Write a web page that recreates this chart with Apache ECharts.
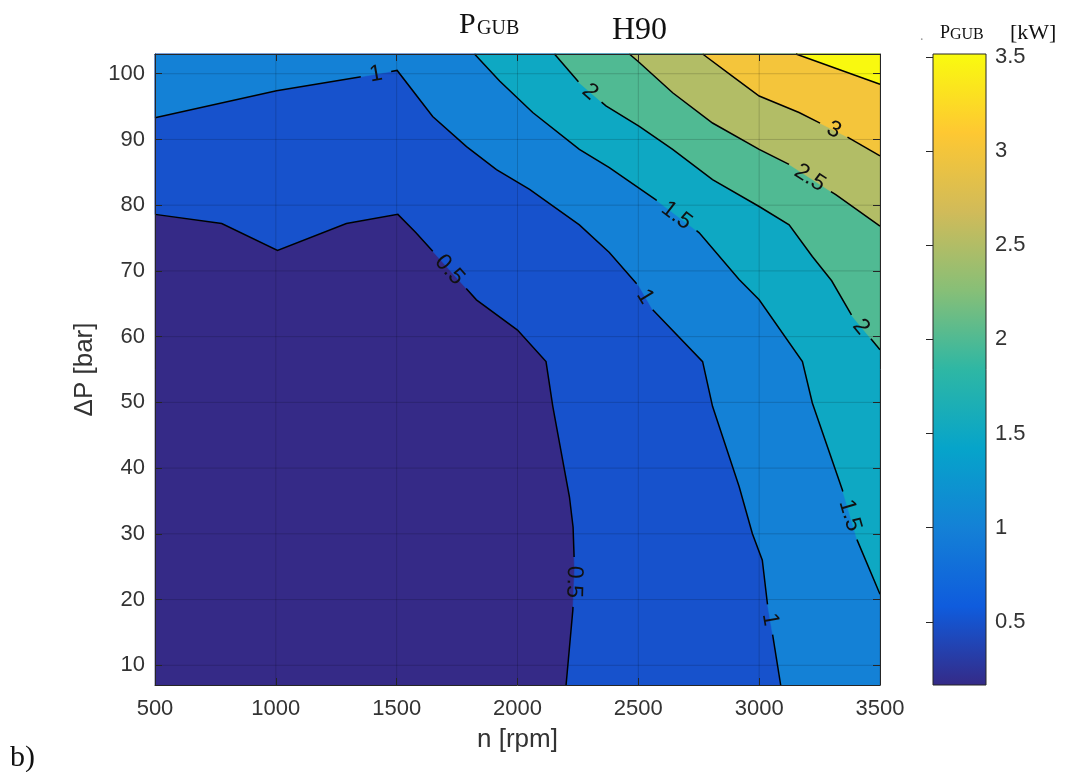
<!DOCTYPE html>
<html><head><meta charset="utf-8">
<script src="https://cdn.jsdelivr.net/npm/echarts@6/dist/echarts.min.js"></script>
<style>html,body{margin:0;padding:0;background:#fff}#c{width:1067px;height:772px}</style>
</head><body><div id="c"></div>
<script>
// ---------- data ----------
const xTicks = [500, 1000, 1500, 2000, 2500, 3000, 3500];
const yTicks = [10, 20, 30, 40, 50, 60, 70, 80, 90, 100];
const cbTicks = [0.5, 1, 1.5, 2, 2.5, 3, 3.5];
const xRange = [500, 3500];
const yRange = [7, 103];
const cbRange = [0.165, 3.515];
const levels = [0.5, 1, 1.5, 2, 2.5, 3, 3.5];

// contour lines [n (rpm), dP (bar)]
const c05 = [[500,78.6],[776,77.2],[1007,73.1],[1292,77.2],[1505,78.6],[1580,75.8],[1830,65.6],[2000,61],[2118,56.2],[2146,49.4],[2215,35.6],[2230,31],[2236,24.5],[2229,18.4],[2201,7]];
const c10 = [[500,93.3],[1003,97.4],[1347,99.5],[1502,100.5],[1649,93.5],[1789,88.9],[1913,85.4],[2050,82.4],[2256,77.0],[2380,72.8],[2504,67.6],[2559,64.1],[2766,56.2],[2807,49.4],[2917,37.2],[2972,30],[3013,26],[3034,19.4],[3055,14.8],[3089,7]];
const c15 = [[1822,103],[1926,98.9],[2063,94.1],[2256,88.5],[2380,85.7],[2573,80.8],[2752,75.8],[2917,68.7],[3000,65.6],[3179,56.2],[3220,49.9],[3344,36.7],[3406,29],[3500,20.8]];
const c20 = [[2153,103],[2256,98.6],[2366,95.1],[2504,92],[2642,88.5],[2807,83.9],[3000,79.8],[3124,77],[3220,72.2],[3300,68.5],[3385,63.1],[3500,58]];
const c25 = [[2463,103],[2504,101.7],[2642,97.1],[2807,92.5],[3000,88.5],[3124,86.2],[3317,81.6],[3500,76.8]];
const c30 = [[2766,103],[2890,99.6],[3000,96.6],[3165,94.1],[3358,90.5],[3500,87.5]];
const c35 = [[3152,103],[3500,98.4]];
const contours = [c05, c10, c15, c20, c25, c30, c35];

// inline contour labels [level, n, dP]
const contourLabels = [[1,1416,99.6],[0.5,1705,69.7],[2,2297,97.1],[3,3303,91],[2.5,3206,83.9],[1.5,2656,78.3],[1,2518,65.9],[2,3406,61.0],[1.5,3358,32.6],[0.5,2222,22.7],[1,3034,16.9]];

// parula colormap stops
const parula = ['#352a87','#0f5cdd','#1481d6','#06a4ca','#2eb7a4','#87bf77','#d1bb59','#fec832','#f9fb0e'];

// ---------- helpers ----------
function hex2rgb(h){return [parseInt(h.slice(1,3),16),parseInt(h.slice(3,5),16),parseInt(h.slice(5,7),16)];}
function parulaAt(t){
  t=Math.max(0,Math.min(1,t));
  const f=t*(parula.length-1), i=Math.min(parula.length-2,Math.floor(f)), r=f-i;
  const a=hex2rgb(parula[i]), b=hex2rgb(parula[i+1]);
  return 'rgb('+a.map((v,k)=>Math.round(v+(b[k]-v)*r)).join(',')+')';
}
function colorOf(v){return parulaAt((v-cbRange[0])/(cbRange[1]-cbRange[0]));}
const X0=xRange[0],X1=xRange[1],Y0=yRange[0],Y1=yRange[1];
function perim(p){
  const W=X1-X0,H=Y1-Y0;
  const dB=Math.abs(p[1]-Y0)/H, dR=Math.abs(p[0]-X1)/W, dT=Math.abs(p[1]-Y1)/H, dL=Math.abs(p[0]-X0)/W;
  const m=Math.min(dB,dR,dT,dL);
  if(m===dB) return (p[0]-X0)/W;
  if(m===dR) return 1+(p[1]-Y0)/H;
  if(m===dT) return 2+(X1-p[0])/W;
  return 3+(Y1-p[1])/H;
}
const corners=[[X0,Y0],[X1,Y0],[X1,Y1],[X0,Y1]];
function regionAbove(c){
  const s=perim(c[0]), e=perim(c[c.length-1]);
  const poly=c.slice();
  const stop = s>e ? s : s+4;
  for(let j=Math.floor(e)+1;j<stop;j++) poly.push(corners[j%4]);
  return poly;
}
function fmt(v){return String(v);}
function textW(s,fs){let w=0;for(const ch of s) w+= ch==='.'?0.278:0.556; return w*fs;}

const LABEL_FS=23;

// ---------- chart ----------
const chart=echarts.init(document.getElementById('c'),null,{renderer:'canvas'});
const axisColor='#262626', labelColor='#333';
const fillItems=[{lv:cbRange[0],poly:[corners[0],corners[1],corners[2],corners[3]]}].concat(levels.map((lv,i)=>({lv:lv,poly:regionAbove(contours[i])})));

const option={
  animation:false,
  backgroundColor:'#fff',
  grid:[{left:155,right:187,top:54,bottom:87},{left:933,width:53,top:54,bottom:87}],
  xAxis:[
    {type:'value',gridIndex:0,min:X0,max:X1,interval:500,position:'bottom',z:10,
     axisLine:{show:true,onZero:false,lineStyle:{color:axisColor,width:1}},
     axisTick:{show:true,inside:true,length:7,lineStyle:{color:axisColor}},
     axisLabel:{show:true,color:labelColor,fontSize:22,fontFamily:'Liberation Sans',margin:13,showMinLabel:true,showMaxLabel:true,formatter:fmt},
     splitLine:{show:false},
     name:'n [rpm]',nameLocation:'middle',nameGap:42,nameTextStyle:{color:labelColor,fontSize:26,fontFamily:'Liberation Sans'}},
    {type:'value',gridIndex:0,min:X0,max:X1,interval:500,position:'top',z:10,
     axisLine:{show:true,onZero:false,lineStyle:{color:axisColor,width:1}},
     axisTick:{show:true,inside:true,length:7,lineStyle:{color:axisColor}},
     axisLabel:{show:false},splitLine:{show:false}},
    {type:'value',gridIndex:1,min:0,max:1,show:false}
  ],
  yAxis:[
    {type:'value',gridIndex:0,min:Y0,max:Y1,position:'left',z:10,
     axisLine:{show:true,onZero:false,lineStyle:{color:axisColor,width:1}},
     axisTick:{show:true,inside:true,length:7,lineStyle:{color:axisColor},customValues:yTicks},
     axisLabel:{show:true,color:labelColor,fontSize:22,fontFamily:'Liberation Sans',margin:10,customValues:yTicks,formatter:fmt},
     splitLine:{show:false},
     name:'\u0394P [bar]',nameLocation:'middle',nameGap:57,nameTextStyle:{color:labelColor,fontSize:26,fontFamily:'Liberation Sans'}},
    {type:'value',gridIndex:0,min:Y0,max:Y1,position:'right',z:10,
     axisLine:{show:true,onZero:false,lineStyle:{color:axisColor,width:1}},
     axisTick:{show:true,inside:true,length:7,lineStyle:{color:axisColor},customValues:yTicks},
     axisLabel:{show:false,customValues:yTicks},splitLine:{show:false}},
    {type:'value',gridIndex:1,min:cbRange[0],max:cbRange[1],position:'right',z:10,
     axisLine:{show:false},
     axisTick:{show:true,inside:true,length:7,lineStyle:{color:axisColor},customValues:cbTicks},
     axisLabel:{show:true,color:labelColor,fontSize:22,fontFamily:'Liberation Sans',margin:9,customValues:cbTicks,formatter:fmt},
     splitLine:{show:false}}
  ],
  series:[
    // filled contour regions
    {type:'custom',xAxisIndex:0,yAxisIndex:0,z:1,silent:true,
     data:fillItems.map((f,i)=>[i]),
     renderItem:function(params,api){
       const f=fillItems[params.dataIndex];
       return {type:'polygon',shape:{points:f.poly.map(p=>api.coord(p))},style:{fill:colorOf(f.lv),stroke:colorOf(f.lv),lineWidth:0.5}};
     }},
    // grid lines
    {type:'custom',xAxisIndex:0,yAxisIndex:0,z:3,silent:true,
     data:xTicks.map(v=>[v]).concat(yTicks.map(v=>[v])),
     renderItem:function(params,api){
       const idx=params.dataIndex;
       const isX=idx<xTicks.length; const v=isX?xTicks[idx]:yTicks[idx-xTicks.length];
       const a=isX?api.coord([v,Y0]):api.coord([X0,v]);
       const b=isX?api.coord([v,Y1]):api.coord([X1,v]);
       return {type:'line',shape:{x1:a[0],y1:a[1],x2:b[0],y2:b[1]},style:{stroke:'rgba(0,0,0,0.16)',lineWidth:1}};
     }},
    // contour lines with inline labels
    {type:'custom',xAxisIndex:0,yAxisIndex:0,z:4,silent:true,
     data:contours.map((c,i)=>[i]),
     renderItem:function(params,api){
       const ci=params.dataIndex, lv=levels[ci];
       const pts=contours[ci].map(p=>api.coord(p));
       const cum=[0];
       for(let i=1;i<pts.length;i++) cum.push(cum[i-1]+Math.hypot(pts[i][0]-pts[i-1][0],pts[i][1]-pts[i-1][1]));
       const total=cum[cum.length-1];
       function pointAt(s){
         s=Math.max(0,Math.min(total,s));
         for(let i=1;i<pts.length;i++){ if(s<=cum[i]||i===pts.length-1){const L=cum[i]-cum[i-1]||1,t=(s-cum[i-1])/L;return [pts[i-1][0]+t*(pts[i][0]-pts[i-1][0]),pts[i-1][1]+t*(pts[i][1]-pts[i-1][1])];}}
         return pts[pts.length-1];
       }
       function sub(sa,sb){const out=[pointAt(sa)];for(let i=0;i<pts.length;i++){if(cum[i]>sa&&cum[i]<sb)out.push(pts[i]);}out.push(pointAt(sb));return out;}
       const children=[]; const gaps=[];
       contourLabels.filter(l=>l[0]===lv).forEach(l=>{
         const q=api.coord([l[1],l[2]]);
         let best=1e9,bs=0;
         for(let i=1;i<pts.length;i++){
           const ax=pts[i-1][0],ay=pts[i-1][1],bx=pts[i][0],by=pts[i][1];
           const dx=bx-ax,dy=by-ay,L2=dx*dx+dy*dy||1;
           let t=((q[0]-ax)*dx+(q[1]-ay)*dy)/L2; t=Math.max(0,Math.min(1,t));
           const px=ax+t*dx,py=ay+t*dy,d=Math.hypot(q[0]-px,q[1]-py);
           if(d<best){best=d;bs=cum[i-1]+t*Math.sqrt(L2);}
         }
         const txt=fmt(lv); const g=textW(txt,LABEL_FS)+18;
         gaps.push([bs-g/2,bs+g/2]);
         const pa=pointAt(bs-g/2),pb=pointAt(bs+g/2),pc=pointAt(bs);
         let ang=Math.atan2(pb[1]-pa[1],pb[0]-pa[0])*180/Math.PI;
         if(ang>100) ang-=180; if(ang<=-80) ang+=180;
         children.push({type:'text',x:pc[0],y:pc[1],rotation:-ang*Math.PI/180,
           style:{text:txt,font:LABEL_FS+'px "Liberation Sans"',fill:'#111',align:'center',verticalAlign:'middle',textAlign:'center',textVerticalAlign:'middle'}});
       });
       gaps.sort((a,b)=>a[0]-b[0]);
       let s=0;
       gaps.forEach(g=>{ if(g[0]>s) children.push({type:'polyline',shape:{points:sub(s,g[0])},style:{stroke:'#000',lineWidth:1.5,fill:null}}); s=Math.max(s,g[1]); });
       if(s<total) children.push({type:'polyline',shape:{points:sub(s,total)},style:{stroke:'#000',lineWidth:1.5,fill:null}});
       return {type:'group',children:children};
     }},
    // colorbar
    {type:'custom',xAxisIndex:2,yAxisIndex:2,z:1,silent:true,
     data:[[0]],
     renderItem:function(params,api){
       const a=api.coord([0,cbRange[0]]), b=api.coord([1,cbRange[1]]);
       return {type:'rect',shape:{x:a[0],y:b[1],width:b[0]-a[0],height:a[1]-b[1]},
         style:{fill:new echarts.graphic.LinearGradient(0,1,0,0,parula.map((c,i)=>({offset:i/(parula.length-1),color:c}))),stroke:axisColor,lineWidth:1}};
     }}
  ],
  graphic:[
    {type:'text',x:459,y:25,style:{text:'P',font:'30px "Liberation Serif"',fill:'#111',textAlign:'left',textVerticalAlign:'middle'}},
    {type:'text',x:477,y:28.5,style:{text:'GUB',font:'20px "Liberation Serif"',fill:'#111',textAlign:'left',textVerticalAlign:'middle'}},
    {type:'text',x:612,y:31,style:{text:'H90',font:'32px "Liberation Serif"',fill:'#111',textAlign:'left',textVerticalAlign:'middle'}},
    {type:'text',x:920,y:36,style:{text:'.',font:'14px "Liberation Serif"',fill:'#999',textAlign:'left',textVerticalAlign:'middle'}},
    {type:'text',x:940,y:33,style:{text:'P',font:'18px "Liberation Serif"',fill:'#111',textAlign:'left',textVerticalAlign:'middle'}},
    {type:'text',x:950,y:34.5,style:{text:'GUB',font:'16px "Liberation Serif"',fill:'#111',textAlign:'left',textVerticalAlign:'middle'}},
    {type:'text',x:1010,y:33,style:{text:'[kW]',font:'22px "Liberation Serif"',fill:'#111',textAlign:'left',textVerticalAlign:'middle'}},
    {type:'text',x:10,y:758,style:{text:'b)',font:'30px "Liberation Serif"',fill:'#111',textAlign:'left',textVerticalAlign:'middle'}}
  ]
};
chart.setOption(option);
</script>
</body></html>
